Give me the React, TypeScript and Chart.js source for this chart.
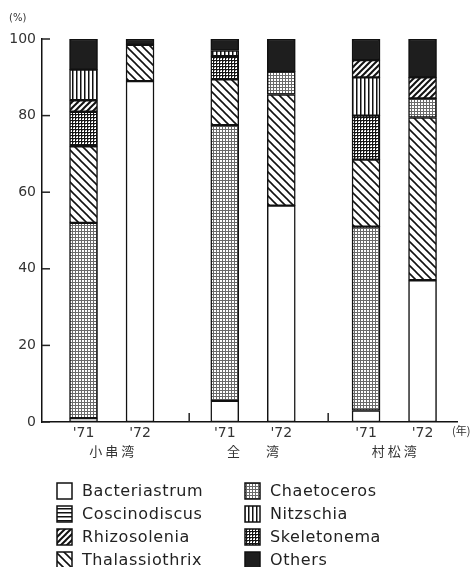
import React, { useEffect, useRef } from "react";
import { Chart, registerables } from "chart.js";
Chart.register(...registerables);

// ---- data ----
const barYears = ["'71", "'72", "'71", "'72", "'71", "'72"];
const barPositions = [0, 1, 2.5, 3.5, 5, 6];
const bayNames = ["小 串 湾", "全　　湾", "村 松 湾"];
const bayPositions = [0.5, 3, 5.5];
const gapTicks = [1.87, 4.33];
const yTicks = [0, 20, 40, 60, 80, 100];

// percentage of each genus in each bar ('71/'72 for 小串湾, 全湾, 村松湾)
const bacteriastrum = [1, 89, 5.5, 56.5, 3, 37];
const coscinodiscus = [0, 0, 0, 0, 0, 0];
const rhizosolenia = [3, 0, 0, 0, 4.5, 5.5];
const thalassiothrix = [20, 9.5, 12, 29, 17.5, 42.5];
const chaetoceros = [51, 0, 72, 6, 48, 5];
const nitzschia = [8, 0, 1.5, 0, 10, 0];
const skeletonema = [9, 0, 6, 0, 11.5, 0];
const others = [8, 1.5, 3, 8.5, 5.5, 10];

// stacking order (bottom to top) of each bar
const stackOrder = [
  ["Bacteriastrum", "Chaetoceros", "Thalassiothrix", "Skeletonema", "Rhizosolenia", "Nitzschia", "Others"],
  ["Bacteriastrum", "Thalassiothrix", "Others"],
  ["Bacteriastrum", "Chaetoceros", "Thalassiothrix", "Skeletonema", "Nitzschia", "Others"],
  ["Bacteriastrum", "Thalassiothrix", "Chaetoceros", "Others"],
  ["Bacteriastrum", "Chaetoceros", "Thalassiothrix", "Skeletonema", "Nitzschia", "Rhizosolenia", "Others"],
  ["Bacteriastrum", "Thalassiothrix", "Chaetoceros", "Rhizosolenia", "Others"],
];

const speciesNames = [
  "Bacteriastrum", "Coscinodiscus", "Rhizosolenia", "Thalassiothrix",
  "Chaetoceros", "Nitzschia", "Skeletonema", "Others",
];
const speciesSeries = [
  bacteriastrum, coscinodiscus, rhizosolenia, thalassiothrix,
  chaetoceros, nitzschia, skeletonema, others,
];
const speciesFill = ["white", "hlines", "fwd", "back", "dots", "vlines", "grid", "solid"];

function makePattern(kind: string): any {
  if (kind === "white") return "#ffffff";
  if (kind === "solid") return "#1e1e1e";
  const c = document.createElement("canvas");
  const ctx = c.getContext("2d")!;
  let s = 4;
  if (kind === "back") s = 8;
  if (kind === "fwd") s = 6;
  if (kind === "dots" || kind === "grid") s = 3;
  c.width = s;
  c.height = s;
  ctx.fillStyle = "#ffffff";
  ctx.fillRect(0, 0, s, s);
  if (kind === "dots" || kind === "grid") {
    ctx.fillStyle = kind === "dots" ? "#6a6a6a" : "#141414";
    ctx.fillRect(0, 0, s, 1);
    ctx.fillRect(0, 0, 1, s);
    if (kind === "grid") {
      ctx.fillStyle = "#888";
      ctx.fillRect(1, 1, 1, 1);
    }
  } else if (kind === "hlines") {
    ctx.fillStyle = "#111";
    ctx.fillRect(0, 0, s, 1.5);
  } else if (kind === "vlines") {
    ctx.fillStyle = "#111";
    ctx.fillRect(0, 0, 1.5, s);
  } else {
    ctx.strokeStyle = "#111";
    ctx.lineWidth = kind === "fwd" ? 2 : 1.6;
    for (const off of [-s, 0, s]) {
      ctx.beginPath();
      if (kind === "back") {
        ctx.moveTo(off - 1, -1);
        ctx.lineTo(off + s + 1, s + 1);
      } else {
        ctx.moveTo(off - 1, s + 1);
        ctx.lineTo(off + s + 1, -1);
      }
      ctx.stroke();
    }
  }
  return ctx.createPattern(c, "repeat");
}

function buildDatasets() {
  return speciesNames.map((name, si) => {
    const data: any[] = [];
    barPositions.forEach((xp, bi) => {
      const v = speciesSeries[si][bi];
      if (!v) return;
      let start = 0;
      for (const n of stackOrder[bi]) {
        if (n === name) break;
        start += speciesSeries[speciesNames.indexOf(n)][bi];
      }
      data.push({ x: xp, y: [start, start + v] });
    });
    return {
      label: name,
      data,
      backgroundColor: makePattern(speciesFill[si]),
      borderColor: "#111",
      borderWidth: 1.5,
      borderSkipped: false,
      grouped: false,
      barThickness: 28,
    };
  });
}

const decorPlugin = {
  id: "decor",
  afterDraw(chart: any) {
    const ctx = chart.ctx;
    const area = chart.chartArea;
    const ys = chart.scales.y;
    const xs = chart.scales.x;
    ctx.save();
    ctx.strokeStyle = "#222";
    ctx.lineWidth = 1.5;
    for (const v of yTicks) {
      const py = ys.getPixelForValue(v);
      ctx.beginPath();
      ctx.moveTo(area.left, py);
      ctx.lineTo(area.left + 8, py);
      ctx.stroke();
    }
    for (const g of gapTicks) {
      const px = xs.getPixelForValue(g);
      ctx.beginPath();
      ctx.moveTo(px, area.bottom);
      ctx.lineTo(px, area.bottom - 9);
      ctx.stroke();
    }
    ctx.fillStyle = "#333";
    ctx.font = "10px 'DejaVu Sans'";
    ctx.textBaseline = "middle";
    ctx.textAlign = "left";
    ctx.fillText("(%)", 9, 18);
    ctx.font = "11px 'Noto Sans CJK JP'";
    ctx.fillText("(年)", 452, 431);

    // legend
    chart.data.datasets.forEach((ds: any, i: number) => {
      const col = i < 4 ? 0 : 1;
      const row = i % 4;
      const bx = col === 0 ? 57 : 245;
      const cy = 491 + row * 23;
      ctx.fillStyle = ds.backgroundColor;
      ctx.fillRect(bx, cy - 8, 15, 16);
      ctx.strokeStyle = "#111";
      ctx.lineWidth = 1.5;
      ctx.strokeRect(bx, cy - 8, 15, 16);
      ctx.fillStyle = "#222";
      ctx.font = "16px 'DejaVu Sans'";
      try {
        (ctx as any).letterSpacing = "0.6px";
      } catch (e) {}
      ctx.textAlign = "left";
      ctx.textBaseline = "middle";
      ctx.fillText(ds.label, bx + 25, cy + 1);
      try {
        (ctx as any).letterSpacing = "0px";
      } catch (e) {}
    });
    ctx.restore();
  },
};

export default function App() {
  const ref = useRef<HTMLCanvasElement>(null);
  useEffect(() => {
    if (!ref.current) return;
    const chart = new Chart(ref.current, {
      type: "bar",
      data: { datasets: buildDatasets() as any },
      options: {
        animation: false,
        responsive: true,
        maintainAspectRatio: false,
        events: [],
        layout: { padding: { top: 39, right: 17, bottom: 105, left: 0 } },
        plugins: { legend: { display: false }, tooltip: { enabled: false } },
        scales: {
          x: {
            type: "linear",
            offset: false,
            min: -0.735,
            max: 6.61,
            position: "bottom",
            grid: { display: false, drawTicks: false, offset: false },
            border: { display: true, color: "#111", width: 1.5 },
            afterBuildTicks: (s: any) => {
              s.ticks = barPositions.map((v) => ({ value: v }));
            },
            afterFit: (s: any) => {
              s.height = 20;
            },
            ticks: {
              autoSkip: false,
              maxRotation: 0,
              padding: 3,
              color: "#333",
              font: { family: "DejaVu Sans", size: 14 },
              callback: (v: any) => {
                const i = barPositions.indexOf(v);
                return i >= 0 ? barYears[i] : "";
              },
            },
          },
          x2: {
            type: "linear",
            offset: false,
            min: -0.735,
            max: 6.61,
            position: "bottom",
            grid: { display: false, drawTicks: false, offset: false },
            border: { display: false },
            afterBuildTicks: (s: any) => {
              s.ticks = bayPositions.map((v) => ({ value: v }));
            },
            afterFit: (s: any) => {
              s.height = 20;
            },
            ticks: {
              autoSkip: false,
              maxRotation: 0,
              padding: 1,
              color: "#333",
              font: { family: "Noto Sans CJK JP", size: 13 },
              callback: (v: any) => {
                const i = bayPositions.indexOf(v);
                return i >= 0 ? bayNames[i] : "";
              },
            },
          },
          y: {
            min: 0,
            max: 100,
            grid: { display: false, drawTicks: false },
            border: { display: true, color: "#111", width: 1.5 },
            afterBuildTicks: (s: any) => {
              s.ticks = yTicks.map((v) => ({ value: v }));
            },
            afterFit: (s: any) => {
              s.width = 42;
            },
            ticks: {
              padding: 6,
              color: "#333",
              font: { family: "DejaVu Sans", size: 14 },
            },
          },
        },
      } as any,
      plugins: [decorPlugin],
    });
    return () => chart.destroy();
  }, []);
  return (
    <div style={{ position: "fixed", left: 0, top: 0, width: 474, height: 567, background: "#fff" }}>
      <canvas ref={ref} />
    </div>
  );
}
